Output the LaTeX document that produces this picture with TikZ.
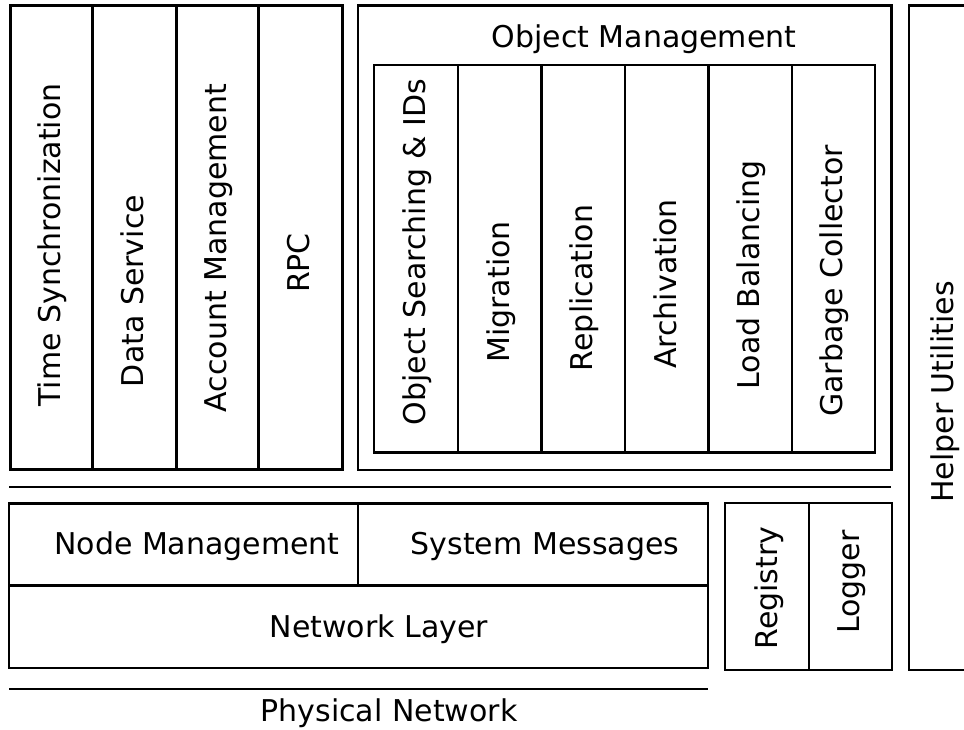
\documentclass[tikz,border=0pt]{standalone}
\usepackage{fontspec}
\setmainfont{DejaVu Sans}
\begin{document}
\begin{tikzpicture}[x=1bp,y=-1bp,
  box/.style={draw=black,line width=2.7bp,line join=miter},
  thick box/.style={draw=black,line width=3bp},
  thin box/.style={draw=black,line width=2.2bp},
  lbl/.style={inner sep=0pt,font=\fontsize{30bp}{36bp}\selectfont,anchor=base},
  vlbl/.style={lbl,rotate=90}]
\useasboundingbox (0,0) rectangle (964,730);

% upper left services
\draw[thick box] (10.5,5.5) rectangle (342,469);
\foreach \x in {92,176,258} \draw[thick box] (\x,5.5) -- (\x,469);
\node[vlbl] (timesync) at (60,245) {Time Synchronization};
\node[vlbl] (datasvc)  at (143,291) {Data Service};
\node[vlbl] (account)  at (226,248) {Account Management};
\node[vlbl] (rpc)      at (309,263) {RPC};

% object management
\draw[box] (358,5.5) rectangle (891.5,470);
\node[lbl] (objmgmt) at (644,48) {Object Management};
\draw[box] (374,65) rectangle (875,452.5);
\foreach \x in {458,541.5,625,708.5,792} \draw[box] (\x,65) -- (\x,452.5);
\node[vlbl] (objsearch) at (425,252) {Object Searching \& IDs};
\node[vlbl] (migration) at (509,292) {Migration};
\node[vlbl] (replic)    at (592,288) {Replication};
\node[vlbl] (archiv)    at (676,284) {Archivation};
\node[vlbl] (loadbal)   at (759,275) {Load Balancing};
\node[vlbl] (garbage)   at (842,281) {Garbage Collector};

% separator
\draw[box] (9,487) -- (891,487);

% networking stack
\draw[box] (9,503.5) rectangle (708,668);
\draw[box] (9,585.5) -- (708,585.5);
\draw[box] (358,503.5) -- (358,585.5);
\node[lbl] (nodemgmt) at (197,554) {Node Management};
\node[lbl] (sysmsg)   at (545,554) {System Messages};
\node[lbl] (netlayer) at (379,637) {Network Layer};

% physical network
\draw[box] (9,689) -- (708,689);
\node[lbl] (physnet) at (389,721) {Physical Network};

% registry and logger
\draw[thin box] (725,503) rectangle (892,670);
\draw[thin box] (809,503) -- (809,670);
\node[vlbl] (registry) at (777,588) {Registry};
\node[vlbl] (logger)   at (859,582) {Logger};

% helper utilities
\draw[box] (975,5.5) -- (909,5.5) -- (909,670) -- (975,670);
\node[vlbl] (helper) at (953,392) {Helper Utilities};
\end{tikzpicture}
\end{document}
